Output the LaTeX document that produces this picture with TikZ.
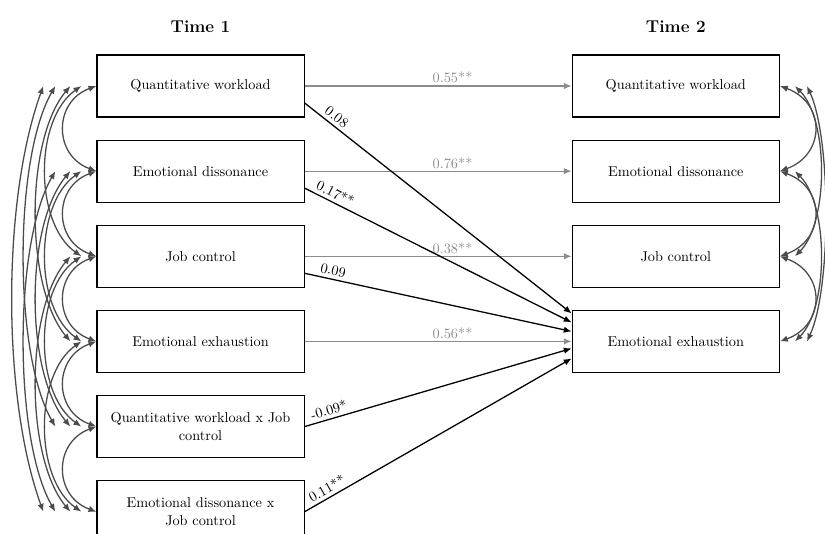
\documentclass[tikz,border=0pt]{standalone}
\usepackage{tikz}
\usetikzlibrary{arrows.meta,positioning}
\definecolor{pathgray}{RGB}{140,140,140}
\definecolor{corrgray}{RGB}{75,75,75}

\begin{document}
\begin{tikzpicture}[
    x=0.7pt, y=0.7pt,
    node distance=15.4pt,
    box/.style={draw, line width=0.8pt, align=center, minimum width=145pt, minimum height=43.4pt, inner sep=2pt},
    title/.style={font=\large\bfseries, inner sep=0pt},
    stab/.style={-{Latex[length=5.5pt,width=4.5pt]}, draw=pathgray, line width=0.8pt},
    stablabel/.style={above, pos=0.554, text=pathgray, inner sep=1.5pt},
    cross/.style={-{Latex[length=5.5pt,width=4.5pt]}, line width=0.9pt},
    crosslabel/.style={sloped, above, pos=0.1, inner sep=2.2pt},
    corr/.style={{Latex[length=5.5pt,width=4.5pt]}-{Latex[length=5.5pt,width=4.5pt]}, draw=corrgray, line width=0.9pt},
    lspan1/.style={out=200, in=160, looseness=1.38},
    lspan2/.style={out=215, in=145, looseness=0.87},
    lspan3/.style={out=230, in=130, looseness=0.71},
    lspan4/.style={out=240, in=120, looseness=0.63},
    lspan5/.style={out=250, in=110, looseness=0.73},
    rspan1/.style={out=-20, in=20, looseness=1.47},
    rspan2/.style={out=-45, in=45, looseness=0.72},
    rspan3/.style={out=-65, in=65, looseness=0.58}]
    \useasboundingbox (0,0) rectangle (825,-534);

    % Time 1
    \node[box] (qw1) at (200.5,-86) {Quantitative workload};
    \node[box] (ed1)   [below=of qw1] {Emotional dissonance};
    \node[box] (jc1)   [below=of ed1] {Job control};
    \node[box] (ee1)   [below=of jc1] {Emotional exhaustion};
    \node[box] (qwjc1) [below=of ee1] {Quantitative workload x Job\\control};
    \node[box] (edjc1) [below=of qwjc1] {Emotional dissonance x\\Job control};

    % Time 2
    \node[box] (qw2) [right=186.9pt of qw1] {Quantitative workload};
    \node[box] (ed2) [below=of qw2] {Emotional dissonance};
    \node[box] (jc2) [below=of ed2] {Job control};
    \node[box] (ee2) [below=of jc2] {Emotional exhaustion};

    \node[title] (t1) [above=of qw1] {Time 1};
    \node[title] (t2) [above=of qw2] {Time 2};

    % stability paths
    \draw[stab] (qw1) -- (qw2) node[stablabel]{0.55**};
    \draw[stab] (ed1) -- (ed2) node[stablabel]{0.76**};
    \draw[stab] (jc1) -- (jc2) node[stablabel]{0.38**};
    \draw[stab] (ee1) -- (ee2) node[stablabel]{0.56**};

    % cross-lagged paths
    \draw[cross] ([yshift=-11.9pt]qw1.east) -- ([yshift=19.6pt]ee2.west) node[crosslabel]{0.08};
    \draw[cross] ([yshift=-11.9pt]ed1.east) -- ([yshift=13.3pt]ee2.west) node[crosslabel]{0.17**};
    \draw[cross] ([yshift=-11.9pt]jc1.east) -- ([yshift=7pt]ee2.west) node[crosslabel]{0.09};
    \draw[cross] (qwjc1.east) -- ([yshift=-4.9pt]ee2.west) node[crosslabel]{-0.09*};
    \draw[cross] (edjc1.east) -- ([yshift=-11.9pt]ee2.west) node[crosslabel]{0.11**};

    % correlations at Time 1
    \draw[corr] (qw1.west) to[lspan1] (ed1.west);
    \draw[corr] (ed1.west) to[lspan1] (jc1.west);
    \draw[corr] (jc1.west) to[lspan1] (ee1.west);
    \draw[corr] (ee1.west) to[lspan1] (qwjc1.west);
    \draw[corr] (qwjc1.west) to[lspan1] (edjc1.west);
    \draw[corr] ([xshift=-10.5pt]qw1.west) to[lspan2] ([xshift=-10.5pt]jc1.west);
    \draw[corr] ([xshift=-10.5pt]ed1.west) to[lspan2] ([xshift=-10.5pt]ee1.west);
    \draw[corr] ([xshift=-10.5pt]jc1.west) to[lspan2] ([xshift=-10.5pt]qwjc1.west);
    \draw[corr] ([xshift=-10.5pt]ee1.west) to[lspan2] ([xshift=-10.5pt]edjc1.west);
    \draw[corr] ([xshift=-18.2pt]qw1.west) to[lspan3] ([xshift=-18.2pt]ee1.west);
    \draw[corr] ([xshift=-18.2pt]ed1.west) to[lspan3] ([xshift=-18.2pt]qwjc1.west);
    \draw[corr] ([xshift=-18.2pt]jc1.west) to[lspan3] ([xshift=-18.2pt]edjc1.west);
    \draw[corr] ([xshift=-28.7pt]qw1.west) to[lspan4] ([xshift=-28.7pt]qwjc1.west);
    \draw[corr] ([xshift=-28.7pt]ed1.west) to[lspan4] ([xshift=-28.7pt]edjc1.west);
    \draw[corr] ([xshift=-37.1pt]qw1.west) to[lspan5] ([xshift=-37.1pt]edjc1.west);

    % residual correlations at Time 2
    \draw[corr] (qw2.east) to[rspan1] (ed2.east);
    \draw[corr] (ed2.east) to[rspan1] (jc2.east);
    \draw[corr] (jc2.east) to[rspan1] (ee2.east);
    \draw[corr] ([xshift=10.5pt]qw2.east) to[rspan2] ([xshift=10.5pt]jc2.east);
    \draw[corr] ([xshift=10.5pt]ed2.east) to[rspan2] ([xshift=10.5pt]ee2.east);
    \draw[corr] ([xshift=18.9pt]qw2.east) to[rspan3] ([xshift=18.9pt]ee2.east);
\end{tikzpicture}
\end{document}
